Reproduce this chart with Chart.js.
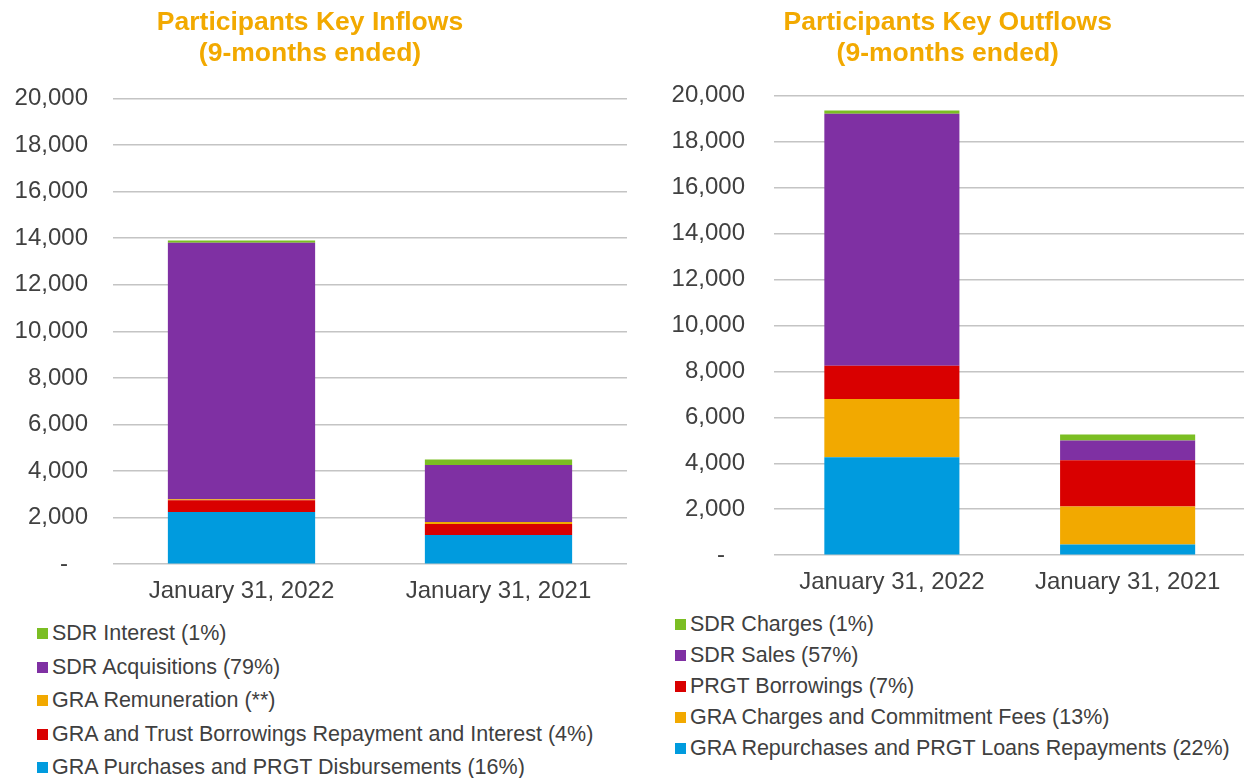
<!DOCTYPE html>
<html>
<head>
<meta charset="utf-8">
<script src="https://cdn.jsdelivr.net/npm/chart.js@4"></script>
<style>
  body { margin: 0; background: #fff; overflow: hidden; width: 1244px; height: 778px; position: relative; }
  .box { position: absolute; top: 0; }
  .legend { position: absolute; font-family: 'Liberation Sans', Arial, sans-serif; font-size: 21.5px; color: #404040; }
  .legend .item { display: flex; align-items: center; white-space: nowrap; }
  .legend .sw { width: 11px; height: 11px; margin-right: 4px; flex: none; }
</style>
</head>
<body>
<div class="box" id="box-in" style="left:-7px;width:634px;height:611px"><canvas id="chart-in"></canvas></div>
<div class="box" id="box-out" style="left:650px;width:642px;height:602px"><canvas id="chart-out"></canvas></div>
<div class="legend" id="legend-in" style="left:37px;top:617px"></div>
<div class="legend" id="legend-out" style="left:675px;top:609px"></div>
<script>
const categories = ['January 31, 2022', 'January 31, 2021'];

// inflows, bottom to top of the stack
const inPurchases = [2245, 1258];
const inBorrowings = [500, 472];
const inRemuneration = [40, 86];
const inAcquisitions = [11020, 2446];
const inInterest = [100, 230];
const inLabels = [
  'GRA Purchases and PRGT Disbursements (16%)',
  'GRA and Trust Borrowings Repayment and Interest (4%)',
  'GRA Remuneration (**)',
  'SDR Acquisitions (79%)',
  'SDR Interest (1%)'
];

// outflows, bottom to top of the stack
const outRepurchases = [4261, 464];
const outCharges = [2536, 1652];
const outBorrowings = [1449, 2014];
const outSales = [10960, 855];
const outSdrCharges = [145, 261];
const outLabels = [
  'GRA Repurchases and PRGT Loans Repayments (22%)',
  'GRA Charges and Commitment Fees (13%)',
  'PRGT Borrowings (7%)',
  'SDR Sales (57%)',
  'SDR Charges (1%)'
];

const blue = '#009bde', red = '#d90000', orange = '#f2a900', purple = '#7f30a3', green = '#7bbe23';
const inColors = [blue, red, orange, purple, green];
const outColors = [blue, orange, red, purple, green];
const textColor = '#404040';

Chart.defaults.font.family = "'Liberation Sans', Arial, sans-serif";
Chart.defaults.color = textColor;

function buildChart(canvasId, legendId, title, series, labels, colors, o) {
  const datasets = series.map((s, i) => ({
    label: labels[i],
    data: s,
    backgroundColor: colors[i],
    borderWidth: 0,
    categoryPercentage: 1,
    barPercentage: 0.573
  }));
  const chart = new Chart(document.getElementById(canvasId), {
    type: 'bar',
    data: { labels: categories, datasets: datasets },
    options: {
      responsive: true,
      maintainAspectRatio: false,
      animation: false,
      layout: { padding: { left: 0, right: o.padRight, top: 0, bottom: 0 } },
      plugins: {
        legend: { display: false },
        tooltip: { enabled: false },
        title: {
          display: true,
          text: title,
          color: '#f2a900',
          font: { size: 26.5, weight: 'bold', lineHeight: 1.17 },
          padding: { top: 7, bottom: o.titleGap }
        }
      },
      scales: {
        x: {
          stacked: true,
          grid: { display: false },
          border: { display: false },
          ticks: { font: { size: 24 }, color: textColor, padding: 5, maxRotation: 0 }
        },
        y: {
          stacked: true,
          min: 0,
          max: 20000,
          afterFit: s => { s.width = o.axisWidth; },
          grid: { color: '#c4c4c4', lineWidth: 1.5, drawTicks: false },
          border: { display: false },
          ticks: {
            stepSize: 2000,
            font: { size: 24 },
            color: textColor,
            padding: o.tickPad,
            callback: v => v === 0 ? '-   ' : v.toLocaleString('en-US')
          }
        }
      }
    }
  });

  const legend = document.getElementById(legendId);
  datasets.slice().reverse().forEach(d => {
    const row = document.createElement('div');
    row.className = 'item';
    row.style.height = o.rowH + 'px';
    row.innerHTML = '<span class="sw" style="background:' + d.backgroundColor + '"></span>' + d.label;
    legend.appendChild(row);
  });
  return chart;
}

buildChart('chart-in', 'legend-in', ['Participants Key Inflows', '(9-months ended)'],
  [inPurchases, inBorrowings, inRemuneration, inAcquisitions, inInterest], inLabels, inColors,
  { padRight: 0, titleGap: 29.5, axisWidth: 120, tickPad: 25, rowH: 33.5 });

buildChart('chart-out', 'legend-out', ['Participants Key Outflows', '(9-months ended)'],
  [outRepurchases, outCharges, outBorrowings, outSales, outSdrCharges], outLabels, outColors,
  { padRight: 46.5, titleGap: 26.5, axisWidth: 124, tickPad: 29, rowH: 31 });
</script>
</body>
</html>
